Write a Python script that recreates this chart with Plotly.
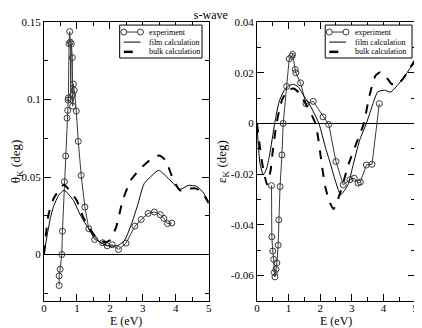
"""
Kerr rotation / ellipticity for s-wave: experiment vs film and bulk calculation
"""

import plotly.graph_objects as go

# --- Kerr rotation (left panel) ---
theta_exp_e = [0.46, 0.46, 0.49, 0.54, 0.56, 0.62, 0.66, 0.70, 0.72, 0.73,
               0.74, 0.76, 0.78, 0.80, 0.81, 0.83, 0.86, 0.87, 0.87, 0.89,
               0.92, 0.98, 1.04, 1.13, 1.24, 1.36, 1.54, 1.78, 1.92, 2.07,
               2.26, 2.49, 2.76, 2.95, 3.16, 3.35, 3.53, 3.64, 3.75, 3.88]
theta_exp = [-0.020, -0.0138, -0.0095, 0.0, 0.015, 0.047, 0.0636, 0.088, 0.093, 0.0996,
             0.101, 0.136, 0.1438, 0.137, 0.100, 0.136, 0.127, 0.103, 0.0957, 0.110,
             0.106, 0.0925, 0.073, 0.051, 0.0306, 0.0166, 0.0097, 0.0076, 0.0056, 0.0063,
             0.0032, 0.0073, 0.0183, 0.0226, 0.0265, 0.0274, 0.0257, 0.0233, 0.0199, 0.0203]

theta_film_e = [0, 0.1, 0.2, 0.29, 0.44, 0.61, 0.89, 1.09, 1.29, 1.49, 1.74, 1.99, 2.24,
                2.44, 2.64, 2.84, 3.04, 3.28, 3.48, 3.73, 3.98, 4.13, 4.38, 4.63, 4.83, 5.0]
theta_film = [0, 0.013, 0.024, 0.031, 0.038, 0.0414, 0.035, 0.026, 0.0188, 0.0123, 0.0073, 0.0054, 0.0058,
              0.009, 0.0188, 0.0317, 0.0457, 0.051, 0.0543, 0.050, 0.0446, 0.042, 0.0446, 0.044, 0.040, 0.034]

theta_bulk_e = [0, 0.07, 0.14, 0.29, 0.44, 0.6, 0.99, 1.19, 1.39, 1.59, 1.84, 1.99, 2.19,
                2.39, 2.64, 2.98, 3.28, 3.48, 3.68, 3.93, 4.13, 4.38, 4.63, 4.83, 5.0]
theta_bulk = [0, 0.015, 0.026, 0.036, 0.041, 0.045, 0.035, 0.024, 0.0166, 0.011, 0.008, 0.009, 0.0177,
              0.035, 0.048, 0.0565, 0.062, 0.0638, 0.061, 0.048, 0.0414, 0.0425, 0.0425, 0.039, 0.033]

# --- Kerr ellipticity (right panel) ---
eps_exp_e = [0.46, 0.47, 0.50, 0.53, 0.55, 0.57, 0.60, 0.63, 0.67, 0.69, 0.73,
             0.79, 0.83, 0.94, 1.02, 1.10, 1.13, 1.21, 1.23, 1.38, 1.55, 1.78,
             2.09, 2.27, 2.50, 2.73, 2.94, 3.08, 3.20, 3.27, 3.46, 3.64, 3.87]
eps_exp = [-0.0245, -0.0447, -0.0503, -0.0536, -0.0588, -0.0605, -0.0575, -0.055, -0.048, -0.038, -0.0249,
           -0.0124, 0.0, 0.0146, 0.0255, 0.0265, 0.0272, 0.0213, 0.020, 0.016, 0.0078, 0.0087,
           0.0026, -0.0004, -0.015, -0.0242, -0.0222, -0.0216, -0.0235, -0.0231, -0.0164, -0.0161, 0.0078]

eps_film_e = [0, 0.05, 0.1, 0.2, 0.3, 0.4, 0.56, 0.7, 0.85, 1.0, 1.15, 1.3, 1.5, 1.65,
              1.96, 2.16, 2.32, 2.47, 2.65, 2.88, 3.03, 3.25, 3.46, 3.67, 3.82, 4.03,
              4.23, 4.44, 4.65, 4.86, 5.0]
eps_film = [0, -0.010, -0.016, -0.0202, -0.018, -0.0125, 0.0, 0.0085, 0.0128, 0.0148, 0.0154, 0.0145, 0.0105, 0.0078,
            0.0, -0.0092, -0.0157, -0.0222, -0.028, -0.0242, -0.017, -0.0066, 0.0, 0.0078, 0.0124, 0.0131,
            0.0124, 0.015, 0.0183, 0.022, 0.024]

eps_bulk_e = [0, 0.08, 0.17, 0.32, 0.43, 0.5, 0.62, 0.8, 1.0, 1.18, 1.35, 1.54, 1.85,
              2.06, 2.16, 2.30, 2.42, 2.63, 2.9, 3.2, 3.38, 3.55, 3.75, 3.9, 4.05,
              4.25, 4.4, 4.62, 4.85, 5.0]
eps_bulk = [0, -0.008, -0.016, -0.024, -0.0186, -0.011, 0.0, 0.0095, 0.0133, 0.0137, 0.0118, 0.0078, 0.0,
            -0.017, -0.0249, -0.031, -0.0337, -0.0275, -0.016, -0.006, 0.0, 0.0104, 0.0188, 0.0202, 0.019,
            0.0157, 0.015, 0.0176, 0.022, 0.025]

# tick labels
theta_ticks = [0, 0.05, 0.1, 0.15]
theta_labels = ['0', '0.05', '0.1', '0.15']
eps_ticks = [-0.06, -0.04, -0.02, 0, 0.02, 0.04]
eps_labels = ['-0.06', '-0.04', '-0.02', '0', '0.02', '0.04']
legend_names = ['experiment', 'film calculation', 'bulk calculation']

FONT = 'Liberation Serif, Times New Roman, DejaVu Serif, serif'
EXP_COLOR = '#3a3a3a'


def add_panel(fig, xa, ya, e_exp, v_exp, e_film, v_film, e_bulk, v_bulk):
    """Add experiment, film and bulk traces to one panel."""
    fig.add_trace(go.Scatter(
        x=e_exp, y=v_exp, name=legend_names[0], mode='lines+markers',
        line=dict(color=EXP_COLOR, width=1),
        marker=dict(symbol='circle-open', size=6, color=EXP_COLOR, line=dict(width=1)),
        xaxis=xa, yaxis=ya
    ))
    fig.add_trace(go.Scatter(
        x=e_film, y=v_film, name=legend_names[1], mode='lines',
        line=dict(color='black', width=1, shape='spline', smoothing=0.6),
        xaxis=xa, yaxis=ya
    ))
    fig.add_trace(go.Scatter(
        x=e_bulk, y=v_bulk, name=legend_names[2], mode='lines',
        line=dict(color='black', width=2, dash='dash', shape='spline', smoothing=0.6),
        xaxis=xa, yaxis=ya
    ))


def add_box_legend(fig, x0, x1):
    """Compact boxed legend (plotly's own legend rows are too tall here)."""
    y0, y1 = 0.871, 0.989
    rows = [0.964, 0.928, 0.893]
    sx0, sx1 = x0 + 0.011, x0 + 0.056
    tx = x0 + 0.074
    fig.add_shape(type='rect', xref='paper', yref='paper', x0=x0, x1=x1, y0=y0, y1=y1,
                  line=dict(color='black', width=1), fillcolor='white', layer='above')
    styles = [dict(color=EXP_COLOR, width=1), dict(color='black', width=1),
              dict(color='black', width=2.5, dash='dash')]
    for row, style, name in zip(rows, styles, legend_names):
        fig.add_shape(type='line', xref='paper', yref='paper', x0=sx0, x1=sx1, y0=row, y1=row,
                      line=style, layer='above')
        fig.add_annotation(x=tx, y=row, xref='paper', yref='paper', text=name,
                           showarrow=False, xanchor='left', yanchor='middle',
                           font=dict(family=FONT, size=8, color='black'))
    for cx in (sx0, sx1):
        fig.add_shape(type='circle', xref='paper', yref='paper', xsizemode='pixel',
                      ysizemode='pixel', xanchor=cx, yanchor=rows[0], x0=-3, x1=3, y0=-3, y1=3,
                      line=dict(color=EXP_COLOR, width=1), fillcolor='white', layer='above')


fig = go.Figure()
add_panel(fig, 'x', 'y', theta_exp_e, theta_exp, theta_film_e, theta_film,
          theta_bulk_e, theta_bulk)
add_panel(fig, 'x2', 'y2', eps_exp_e, eps_exp, eps_film_e, eps_film,
          eps_bulk_e, eps_bulk)
add_box_legend(fig, 0.204, 0.426)
add_box_legend(fig, 0.758, 0.992)

axis_style = dict(
    showline=True, linecolor='black', linewidth=1, mirror='ticks',
    ticks='inside', ticklen=7, tickcolor='black', showgrid=False,
    tickfont=dict(family=FONT, size=11, color='black'),
)
x_style = dict(axis_style, range=[0, 5], dtick=1, zeroline=False, ticklabelstandoff=-3,
               minor=dict(dtick=0.5, ticks='inside', ticklen=4, tickcolor='black'))

# x-axis titles placed as annotations so they fit under the tick labels
for xc in (0.222, 0.787):
    fig.add_annotation(x=xc, y=-0.072, xref='paper', yref='paper', text='E (eV)',
                       showarrow=False, xanchor='center', yanchor='middle',
                       font=dict(family=FONT, size=12, color='black'))

# the page body adds an 8px offset, so the figure is 8px smaller on each side
fig.update_layout(
    width=414, height=320,
    margin=dict(l=32, r=4, t=14, b=27),
    paper_bgcolor='white', plot_bgcolor='white',
    showlegend=False,
    title=dict(text='s-wave', x=0.49, xanchor='center', xref='container', y=0.992, yanchor='top',
               yref='container', font=dict(family=FONT, size=12, color='black')),
    xaxis=dict(x_style, domain=[0, 0.444], anchor='y'),
    xaxis2=dict(x_style, domain=[0.574, 1], anchor='y2'),
    yaxis=dict(axis_style, range=[-0.03, 0.15], tickvals=theta_ticks, ticktext=theta_labels,
               minor=dict(dtick=0.025, ticks='inside', ticklen=4, tickcolor='black'),
               zeroline=True, zerolinecolor='black', zerolinewidth=1,
               title=dict(text='θ<sub>K</sub> (deg)', font=dict(family=FONT, size=13, color='black'),
                          standoff=0),
               anchor='x'),
    yaxis2=dict(axis_style, range=[-0.07, 0.04], tickvals=eps_ticks, ticktext=eps_labels,
                minor=dict(dtick=0.01, ticks='inside', ticklen=4, tickcolor='black'),
                zeroline=True, zerolinecolor='black', zerolinewidth=1,
                title=dict(text='ε<sub>K</sub> (deg)', font=dict(family=FONT, size=13, color='black'),
                           standoff=0),
                anchor='x2'),
)

fig.write_html("out.html")
